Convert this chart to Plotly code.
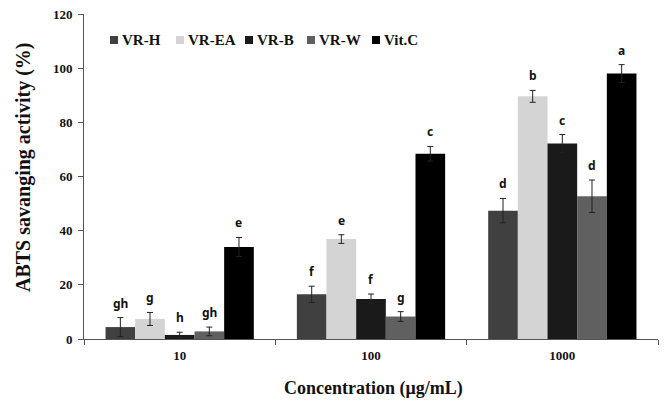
import plotly.graph_objects as go

categories = ["10", "100", "1000"]
series_names = ["VR-H", "VR-EA", "VR-B", "VR-W", "Vit.C"]
vr_h = [4.4, 16.5, 47.4]
vr_ea = [7.4, 36.9, 89.6]
vr_b = [1.5, 14.8, 72.2]
vr_w = [2.8, 8.3, 52.7]
vit_c = [34.0, 68.4, 98.0]
vr_h_err = [3.5, 3.0, 4.5]
vr_ea_err = [2.4, 1.6, 2.2]
vr_b_err = [1.0, 1.8, 3.3]
vr_w_err = [1.6, 1.8, 6.0]
vit_c_err = [3.5, 2.7, 3.3]
vr_h_lbl = ["gh", "f", "d"]
vr_ea_lbl = ["g", "e", "b"]
vr_b_lbl = ["h", "f", "c"]
vr_w_lbl = ["gh", "g", "d"]
vit_c_lbl = ["e", "c", "a"]
colors = ["#404040", "#d4d4d4", "#1a1a1a", "#606060", "#000000"]
x_title = "Concentration (μg/mL)"
y_title = "ABTS savanging activity (%)"

values = [vr_h, vr_ea, vr_b, vr_w, vit_c]
errors = [vr_h_err, vr_ea_err, vr_b_err, vr_w_err, vit_c_err]
labels = [vr_h_lbl, vr_ea_lbl, vr_b_lbl, vr_w_lbl, vit_c_lbl]

serif = "Liberation Serif"
W, H = 668, 403
ML, MR, MT, MB = 84, 10, 14, 64
PW, PH = W - ML - MR, H - MT - MB


def px_to_paper(px, py):
    return (px - ML) / PW, (H - MB - py) / PH


fig = go.Figure()
for name, v, e, c in zip(series_names, values, errors, colors):
    fig.add_trace(go.Bar(
        x=categories, y=v, name=name, marker_color=c,
        marker_line_width=0, showlegend=False,
        error_y=dict(type="data", array=e, visible=True, color="#222222",
                     thickness=1, width=3),
    ))

bargap = 0.225
n = len(series_names)
w = (1 - bargap) / n
annotations = []
shapes = []
for j in range(n):
    for i in range(len(categories)):
        annotations.append(dict(
            x=i + (j - (n - 1) / 2) * w, y=values[j][i] + errors[j][i],
            xref="x", yref="y", text=labels[j][i], showarrow=False,
            yanchor="bottom", yshift=4,
            font=dict(family="Noto Sans", size=12, color="#111111", weight="bold"),
        ))

# manual legend (square swatch + bold serif text)
legend_px = [110, 176, 245, 307, 372]
legend_py = 40
for name, c, px in zip(series_names, colors, legend_px):
    xa, ya = px_to_paper(px, legend_py)
    shapes.append(dict(type="rect", xref="paper", yref="paper",
                       xsizemode="pixel", ysizemode="pixel",
                       xanchor=xa, yanchor=ya, x0=0, x1=8, y0=-4, y1=4,
                       fillcolor=c, line=dict(width=0)))
    annotations.append(dict(x=xa, y=ya, xref="paper", yref="paper",
                            xanchor="left", yanchor="middle", xshift=10,
                            text=name, showarrow=False,
                            font=dict(family=serif, size=15, color="#111111",
                                      weight="bold")))

# axis titles
xt_x, xt_y = px_to_paper(373, 389)
annotations.append(dict(x=xt_x, y=xt_y, xref="paper", yref="paper",
                        xanchor="center", yanchor="middle", text=x_title,
                        showarrow=False,
                        font=dict(family=serif, size=18, color="#111111",
                                  weight="bold")))
yt_x, yt_y = px_to_paper(23, 168)
annotations.append(dict(x=yt_x, y=yt_y, xref="paper", yref="paper",
                        xanchor="center", yanchor="middle", text=y_title,
                        textangle=-90, showarrow=False,
                        font=dict(family=serif, size=20, color="#111111",
                                  weight="bold")))

fig.update_layout(
    width=W, height=H,
    margin=dict(l=ML, r=MR, t=MT, b=MB, autoexpand=False),
    plot_bgcolor="white", paper_bgcolor="white",
    barmode="group", bargap=bargap, bargroupgap=0,
    font=dict(family=serif, color="#111111"),
    showlegend=False,
    annotations=annotations,
    shapes=shapes,
    xaxis=dict(
        type="category", showline=True, linecolor="#555555", linewidth=1,
        ticks="outside", tickson="boundaries", ticklen=5, tickcolor="#555555",
        tickfont=dict(family=serif, size=13, weight="bold"),
        ticklabelstandoff=4, automargin=False,
        showgrid=False, range=[-0.5, 2.5],
    ),
    yaxis=dict(
        range=[0, 120], dtick=20, showline=True, linecolor="#555555", linewidth=1,
        ticks="outside", ticklen=5, tickcolor="#555555", showgrid=False,
        zeroline=False, automargin=False, ticklabelstandoff=3,
        tickfont=dict(family=serif, size=13, weight="bold"),
    ),
)
fig.write_html("out.html")
